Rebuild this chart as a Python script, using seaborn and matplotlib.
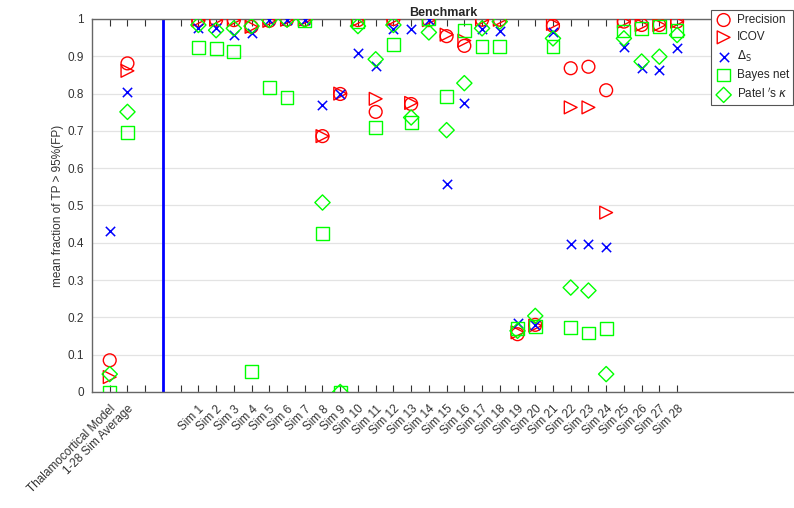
import numpy as np
import pandas as pd
import matplotlib
matplotlib.use("Agg")
import matplotlib.pyplot as plt
import matplotlib.transforms as mtransforms
import seaborn as sns

# categories: two model columns, then three empty slots (separator at the middle one), then Sim 1..28
models = ["Thalamocortical Model", "1-28 Sim Average"]
sims = ["Sim %d" % i for i in range(1, 29)]
tick_labels = models + ["", "", ""] + sims

precision = [0.085, 0.881,
             0.997, 0.998, 0.997, 0.979, 0.995, 0.998, 0.998, 0.686, 0.799, 0.997,
             0.751, 1.000, 0.772, 0.997, 0.954, 0.928, 0.998, 0.998, 0.155, 0.180,
             0.982, 0.868, 0.872, 0.809, 0.993, 0.984, 0.984, 0.993]
icov = [0.040, 0.861,
        0.997, 0.998, 0.997, 0.979, 0.995, 0.998, 0.998, 0.686, 0.800, 0.997,
        0.786, 1.000, 0.775, 0.997, 0.958, 0.942, 0.998, 0.998, 0.160, 0.178,
        0.987, 0.763, 0.763, 0.481, 0.993, 0.984, 0.984, 0.993]
delta_s = [0.432, 0.803,
           0.975, 0.976, 0.957, 0.963, 0.996, 0.998, 0.998, 0.769, 0.800, 0.908,
           0.875, 0.972, 0.972, 0.996, 0.558, 0.774, 0.972, 0.969, 0.184, 0.180,
           0.964, 0.396, 0.396, 0.390, 0.926, 0.868, 0.862, 0.923]
bayes = [0.000, 0.696,
         0.924, 0.920, 0.912, 0.054, 0.817, 0.789, 0.997, 0.425, 0.000, 0.993,
         0.710, 0.932, 0.722, 1.000, 0.793, 0.970, 0.926, 0.926, 0.171, 0.175,
         0.926, 0.172, 0.158, 0.171, 0.968, 0.975, 0.979, 0.969]
patel = [0.048, 0.751,
         0.984, 0.970, 0.975, 0.981, 0.997, 0.998, 0.998, 0.508, 0.000, 0.981,
         0.892, 0.984, 0.736, 0.964, 0.702, 0.828, 0.975, 0.993, 0.164, 0.204,
         0.948, 0.280, 0.272, 0.048, 0.948, 0.886, 0.899, 0.957]

names = models + sims
pos = [tick_labels.index(n) + 1 for n in names]
sep_pos = 4

series = [
    ("Precision", precision, "o", "#ff0000"),
    ("ICOV", icov, ">", "#ff0000"),
    (r"$\Delta_{\mathrm{S}}$", delta_s, "x", "#0000ff"),
    ("Bayes net", bayes, "s", "#00ff00"),
    (r"Patel $'$s $\kappa$", patel, "D", "#00ff00"),
]

sns.set_style("white")
plt.rcParams["font.family"] = ["Liberation Sans", "DejaVu Sans"]

fig = plt.figure(figsize=(7.94, 5.08), dpi=100)
ax = fig.add_axes([92/794, 1 - 392/508, 702/794, 373/508])

for label, vals, mk, col in series:
    df = pd.DataFrame({"x": pos, "y": vals})
    if mk == "x":
        sns.scatterplot(data=df, x="x", y="y", marker=mk, color=col, s=45,
                        linewidth=1.1, label=label, ax=ax, zorder=3)
    else:
        sz = 60 if mk == "D" else 85
        sns.scatterplot(data=df, x="x", y="y", marker=mk, facecolor="none",
                        edgecolor=col, s=sz, linewidth=1.0, label=label,
                        ax=ax, zorder=3)

ax.axvline(sep_pos, color="#0000ff", lw=2, zorder=2)

ax.set_xlim(0, 702/17.73)
ax.set_ylim(0, 1)
ax.set_xticks(range(1, len(tick_labels) + 1))
ax.set_xticklabels(tick_labels, rotation=45, ha="right", rotation_mode="anchor",
                   fontsize=8.5, color="#333333")
ax.minorticks_off()
# the two model labels sit a little lower than the Sim labels
for t in ax.get_xticklabels()[:2]:
    t.set_transform(t.get_transform() + mtransforms.ScaledTranslation(-4/100, -6/100, fig.dpi_scale_trans))
ax.set_yticks(np.arange(0, 1.01, 0.1))
ax.set_yticklabels(["0", "0.1", "0.2", "0.3", "0.4", "0.5", "0.6", "0.7", "0.8", "0.9", "1"],
                   fontsize=8.5, color="#333333")
ax.tick_params(axis="x", direction="in", length=5, width=0.8, color="#333333",
               top=True, bottom=True, pad=8)
ax.tick_params(axis="y", direction="in", length=0, pad=6)
ax.yaxis.grid(True, color="#e3e3e3", lw=0.9)
ax.xaxis.grid(False)
ax.set_axisbelow(True)
for side in ["left", "bottom", "top"]:
    ax.spines[side].set_color("#666666")
    ax.spines[side].set_linewidth(1.0)
ax.spines["right"].set_visible(False)

ax.set_xlabel("")
ax.set_ylabel("mean fraction of TP > 95%(FP)", fontsize=8.5, color="#333333")
ax.yaxis.set_label_coords(-(92 - 64)/702, 0.5)
ax.set_title("Benchmark", fontsize=9, fontweight="bold", pad=2)

ax.get_legend().remove()
handles, labels = ax.get_legend_handles_labels()
leg = fig.legend(handles, labels, loc="upper right", bbox_to_anchor=(1 - 1/794, 1 - 10/508),
                 fontsize=8.5, frameon=True, fancybox=False, borderpad=0.35,
                 labelspacing=0.45, handletextpad=0.4, handlelength=1.4,
                 markerscale=1.0, borderaxespad=0)
leg.get_frame().set_edgecolor("#555555")
leg.get_frame().set_linewidth(0.8)
leg.get_frame().set_alpha(1)

fig.savefig("out.png", dpi=100)
